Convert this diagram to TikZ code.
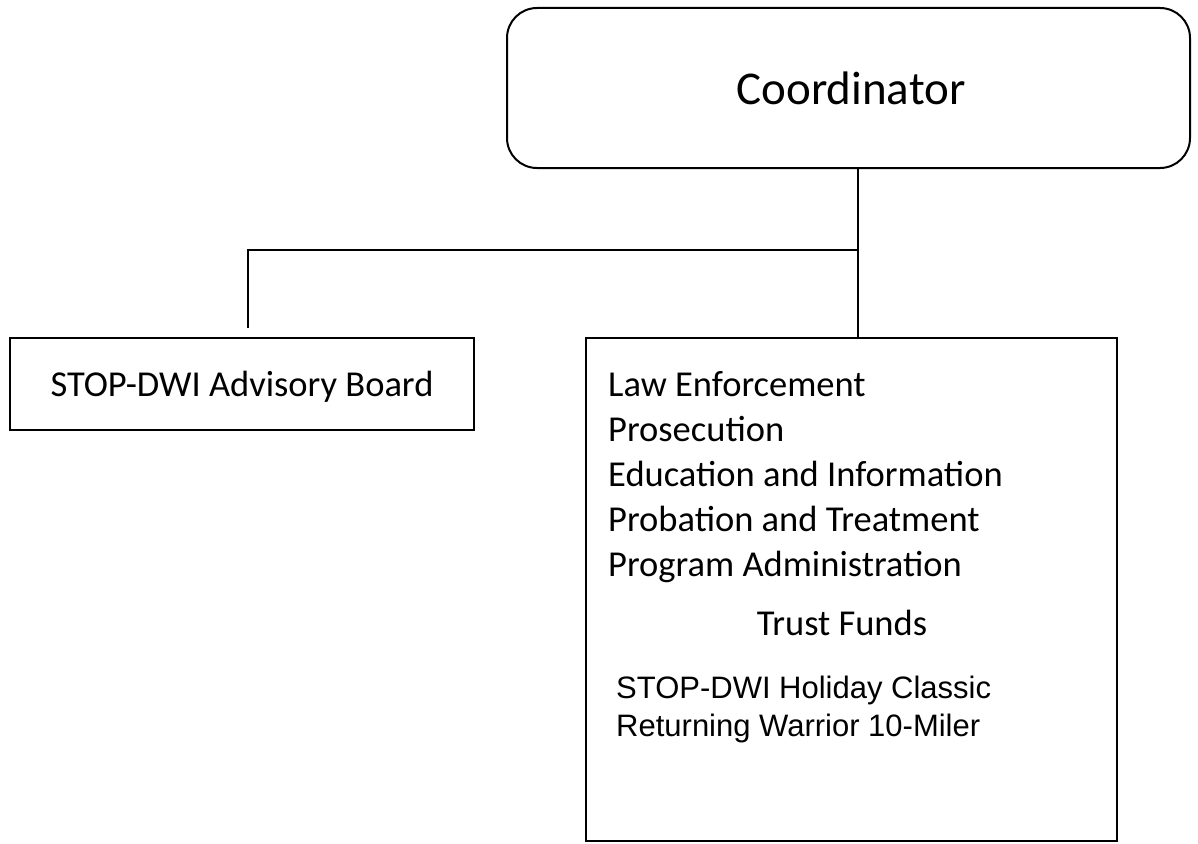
\documentclass[tikz,border=0pt]{standalone}
\usepackage{fontspec}
\setmainfont{Carlito}
\newfontfamily\arialfont{Liberation Sans}
\begin{document}
\begin{tikzpicture}[x=1pt,y=-1pt,
  box/.style={draw=black,line width=2pt,inner sep=0pt},
  conn/.style={draw=black,line width=1.8pt},
  lbl/.style={inner sep=0pt,anchor=base west}]
\useasboundingbox[fill=white] (0,0) rectangle (1198,843);
\node[box,rounded corners=30pt,minimum width=683pt,minimum height=160pt] (coord) at (848.5,88) {};
\node[inner sep=0pt,anchor=base] (ctext) at (851,104) {\fontsize{47}{56}\selectfont Coordinator};
\node[box,minimum width=464pt,minimum height=92pt] (adv) at (242,384) {};
\node[inner sep=0pt,anchor=base] (atext) at (242,396) {\fontsize{36.5}{44}\selectfont STOP-DWI Advisory Board};
\node[box,minimum width=531pt,minimum height=503pt] (prog) at (851.5,589.5) {};
\node[lbl] (l1) at (608,396) {\fontsize{36.5}{44}\selectfont Law Enforcement};
\node[lbl] (l2) at (608,441) {\fontsize{36.5}{44}\selectfont Prosecution};
\node[lbl] (l3) at (608,486) {\fontsize{36.5}{44}\selectfont Education and Information};
\node[lbl] (l4) at (608,531) {\fontsize{36.5}{44}\selectfont Probation and Treatment};
\node[lbl] (l5) at (608,576) {\fontsize{36.5}{44}\selectfont Program Administration};
\node[inner sep=0pt,anchor=base] (tf) at (842,635) {\fontsize{36.5}{44}\selectfont Trust Funds};
\node[lbl] (e1) at (616,698) {\arialfont\fontsize{31}{37}\selectfont STOP-DWI Holiday Classic};
\node[lbl] (e2) at (616,736) {\arialfont\fontsize{31}{37}\selectfont Returning Warrior 10-Miler};
\coordinate (j) at (858,250);
\coordinate (aend) at (248,328);
\draw[conn] (coord.south -| j) -- (prog.north -| j);
\draw[conn] (j) -| (aend);
\end{tikzpicture}
\end{document}
